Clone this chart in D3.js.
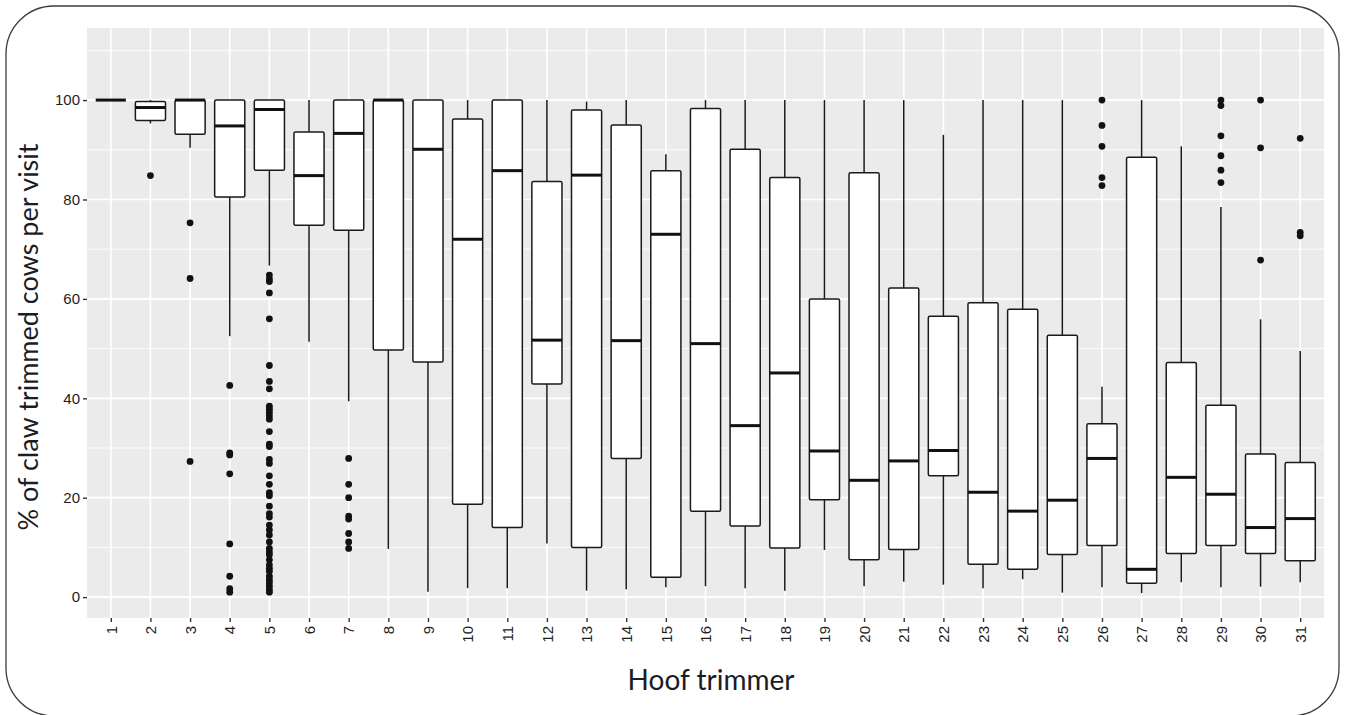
<!DOCTYPE html>
<html>
<head>
<meta charset="utf-8">
<title>Claw trimmed cows per visit by hoof trimmer</title>
<script src="https://cdn.jsdelivr.net/npm/d3@7"></script>
<style>
  body { margin: 0; background: #fff; }
  svg { display: block; }
</style>
</head>
<body>
<svg width="1349" height="715"></svg>
<script>
// values (percent)
var trimmers = ["1","2","3","4","5","6","7","8","9","10","11","12","13","14","15","16",
                "17","18","19","20","21","22","23","24","25","26","27","28","29","30","31"];
var lower  = [100, 95.3, 90.4, 52.5, 66.7, 51.4, 39.4, 9.7, 1.1, 1.8, 1.8, 10.8, 1.3, 1.6, 2.0, 2.2,
              1.8, 1.3, 9.5, 2.2, 3.1, 2.5, 1.8, 3.6, 0.9, 2.0, 0.8, 3.0, 2.0, 2.1, 3.0];
var q1     = [100, 95.9, 93.1, 80.5, 85.9, 74.8, 73.8, 49.7, 47.3, 18.7, 14.0, 42.9, 10.0, 27.9, 4.0, 17.3,
              14.3, 9.9, 19.6, 7.5, 9.6, 24.4, 6.6, 5.6, 8.6, 10.4, 2.8, 8.8, 10.4, 8.8, 7.3];
var median = [100, 98.5, 100, 94.8, 98.1, 84.8, 93.3, 100, 90.1, 72.0, 85.8, 51.7, 84.9, 51.6, 73.0, 51.0,
              34.5, 45.1, 29.4, 23.5, 27.4, 29.5, 21.1, 17.3, 19.5, 27.9, 5.6, 24.1, 20.7, 14.0, 15.8];
var q3     = [100, 99.7, 100, 100, 100, 93.6, 100, 100, 100, 96.2, 100, 83.6, 98.0, 95.0, 85.8, 98.3,
              90.1, 84.4, 60.0, 85.4, 62.2, 56.5, 59.2, 57.9, 52.7, 34.9, 88.5, 47.2, 38.6, 28.8, 27.1];
var upper  = [100, 100, 100, 100, 100, 100, 100, 100, 100, 100, 100, 100, 99.7, 100, 89.1, 100,
              100, 100, 100, 100, 100, 93.0, 100, 100, 100, 42.3, 100, 90.7, 78.5, 55.9, 49.5];
var outliers = [
  [],
  [84.8],
  [75.3, 64.1, 27.3],
  [42.6, 29.0, 28.6, 24.8, 10.7, 4.2, 1.7, 1.0],
  [64.8, 64.0, 63.5, 61.2, 56.0, 46.6, 43.4, 41.9, 38.4, 37.8, 37.2, 36.5, 35.8, 33.3, 30.8, 30.3,
   27.7, 26.9, 24.4, 22.7, 21.0, 20.4, 18.3, 16.8, 16.1, 14.5, 13.5, 12.5, 11.1, 9.8, 9.1, 8.5,
   7.5, 6.5, 5.8, 5.2, 4.2, 3.5, 2.9, 2.2, 1.5, 1.0],
  [],
  [27.9, 22.7, 20.0, 16.3, 15.7, 12.8, 11.1, 9.8],
  [], [], [], [], [], [], [], [], [], [], [], [], [], [], [], [], [], [],
  [100, 94.9, 90.7, 84.4, 82.8],
  [],
  [],
  [100, 98.9, 92.8, 88.8, 85.9, 83.4],
  [100, 90.4, 67.8],
  [92.3, 73.4, 72.7]
];
var yTicks = [0, 20, 40, 60, 80, 100];
var yMinor = [10, 30, 50, 70, 90, 110];

var svg = d3.select("svg"),
    panel = {left: 87, right: 1324, top: 28, bottom: 618};

// rounded outer frame
svg.append("rect")
    .attr("x", 6).attr("y", 6)
    .attr("width", 1333).attr("height", 710)
    .attr("rx", 48).attr("ry", 48)
    .attr("fill", "none")
    .attr("stroke", "#3c3c3c")
    .attr("stroke-width", 1.3);

var x = d3.scalePoint()
    .domain(trimmers)
    .range([panel.left, panel.right])
    .padding(0.6);

var y = d3.scaleLinear()
    .domain([-4.2, 114.5])
    .range([panel.bottom, panel.top]);

var boxW = x.step() * 0.76;

var data = trimmers.map(function(t, i){
  return {t: t, lo: lower[i], q1: q1[i], med: median[i], q3: q3[i], hi: upper[i], out: outliers[i]};
});

// panel background + grid
var g = svg.append("g");
g.append("rect")
    .attr("x", panel.left).attr("y", panel.top)
    .attr("width", panel.right - panel.left)
    .attr("height", panel.bottom - panel.top)
    .attr("fill", "#ebebeb");

g.selectAll(".minor").data(yMinor).enter().append("line")
    .attr("x1", panel.left).attr("x2", panel.right)
    .attr("y1", function(d){ return y(d); }).attr("y2", function(d){ return y(d); })
    .attr("stroke", "#fff").attr("stroke-width", 0.9);

g.selectAll(".major").data(yTicks).enter().append("line")
    .attr("x1", panel.left).attr("x2", panel.right)
    .attr("y1", function(d){ return y(d); }).attr("y2", function(d){ return y(d); })
    .attr("stroke", "#fff").attr("stroke-width", 1.7);

g.selectAll(".vert").data(trimmers).enter().append("line")
    .attr("x1", function(d){ return x(d); }).attr("x2", function(d){ return x(d); })
    .attr("y1", panel.top).attr("y2", panel.bottom)
    .attr("stroke", "#fff").attr("stroke-width", 1.7);

// axes
var yAxis = svg.append("g")
    .attr("transform", "translate(" + panel.left + ",0)")
    .call(d3.axisLeft(y).tickValues(yTicks).tickSize(4).tickPadding(3));
yAxis.select(".domain").remove();
yAxis.attr("font-size", null).attr("font-family", null);
yAxis.selectAll("line").attr("stroke", "#333").attr("stroke-width", 1.4);
yAxis.selectAll("text")
    .attr("fill", "#1e1e1e")
    .style("font-family", "'Liberation Sans', Arial, sans-serif")
    .style("font-size", "15px");

var xAxis = svg.append("g")
    .attr("transform", "translate(0," + panel.bottom + ")")
    .call(d3.axisBottom(x).tickSize(4).tickPadding(3));
xAxis.select(".domain").remove();
xAxis.attr("font-size", null).attr("font-family", null);
xAxis.selectAll("line").attr("stroke", "#333").attr("stroke-width", 1.4);
xAxis.selectAll("text")
    .attr("fill", "#1e1e1e")
    .style("font-family", "'Liberation Sans', Arial, sans-serif")
    .style("font-size", "15px")
    .attr("text-anchor", "end")
    .attr("transform", "rotate(-90)")
    .attr("x", -8)
    .attr("y", 0)
    .attr("dy", "0.35em");

// boxes
var box = svg.append("g").selectAll("g")
    .data(data)
    .enter().append("g")
    .attr("transform", function(d){ return "translate(" + x(d.t) + ",0)"; });

box.append("line")
    .attr("y1", function(d){ return y(d.hi); }).attr("y2", function(d){ return y(d.q3); })
    .attr("stroke", "#1a1a1a").attr("stroke-width", 1.5);
box.append("line")
    .attr("y1", function(d){ return y(d.q1); }).attr("y2", function(d){ return y(d.lo); })
    .attr("stroke", "#1a1a1a").attr("stroke-width", 1.5);

box.append("rect")
    .attr("x", -boxW / 2)
    .attr("y", function(d){ return y(d.q3); })
    .attr("width", boxW)
    .attr("height", function(d){ return y(d.q1) - y(d.q3); })
    .attr("rx", 1.5)
    .attr("fill", "#fff")
    .attr("stroke", "#1a1a1a")
    .attr("stroke-width", 1.5);

box.append("line")
    .attr("x1", -boxW / 2).attr("x2", boxW / 2)
    .attr("y1", function(d){ return y(d.med); }).attr("y2", function(d){ return y(d.med); })
    .attr("stroke", "#111").attr("stroke-width", 3);

box.selectAll("circle")
    .data(function(d){ return d.out; })
    .enter().append("circle")
    .attr("cy", function(v){ return y(v); })
    .attr("r", 3.4)
    .attr("fill", "#111");

// titles
svg.append("text")
    .attr("transform", "translate(38,337) rotate(-90)")
    .attr("text-anchor", "middle")
    .attr("font-family", "Lato, 'Open Sans', sans-serif")
    .attr("font-size", 27)
    .attr("fill", "#1c1c24")
    .text("% of claw trimmed cows per visit");

svg.append("text")
    .attr("x", 711)
    .attr("y", 690)
    .attr("text-anchor", "middle")
    .attr("font-family", "Lato, 'Open Sans', sans-serif")
    .attr("font-size", 28)
    .attr("fill", "#1c1c24")
    .text("Hoof trimmer");
</script>
</body>
</html>
